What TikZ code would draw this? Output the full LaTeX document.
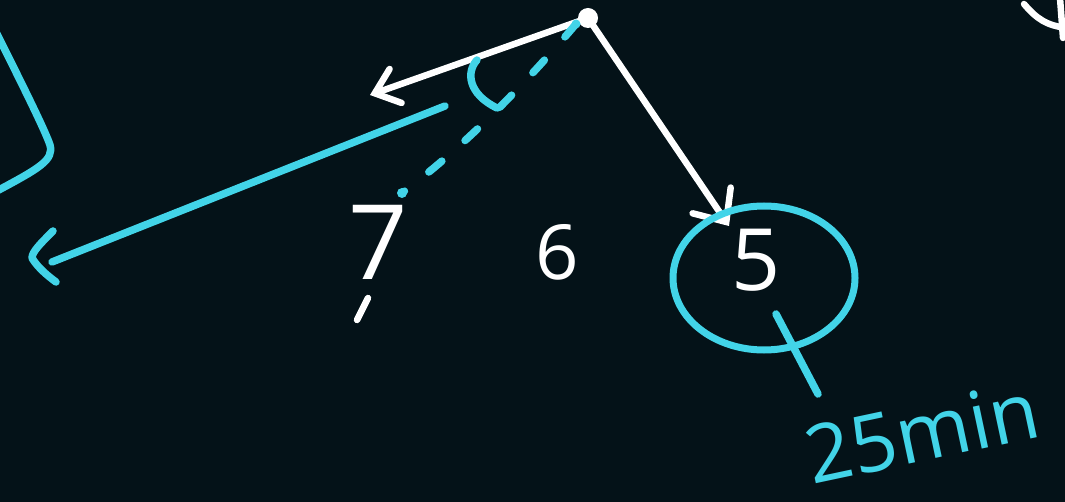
\documentclass[tikz,border=0pt]{standalone}
\usepackage{fontspec}
\setmainfont{Open Sans}
\usetikzlibrary{arrows.meta,shapes.geometric}
\definecolor{bg}{RGB}{4,18,24}
\definecolor{cy}{RGB}{66,212,232}
\begin{document}
\begin{tikzpicture}[x=1pt,y=-1pt,
  wstroke/.style={draw=white,line width=6.5pt,line cap=round,line join=round},
  cstroke/.style={draw=cy,line width=7.5pt,line cap=round,line join=round},
  wtip/.style={-{Straight Barb[length=22pt,width=36pt,line cap=round]}},
  wtipb/.style={-{Straight Barb[length=26pt,width=46pt,line cap=round]}},
  digit/.style={text=white,inner sep=0pt,font=\fontsize{#1}{#1}\selectfont},
  cdash/.style={cstroke,dash pattern=on 17pt off 31pt}
]
\useasboundingbox (0,0) rectangle (1065,502);
\fill[bg] (0,0) rectangle (1065,502);

% key points
\coordinate (apex) at (588,18);
\coordinate (tipL) at (370,95);
\coordinate (tip5) at (729,226);
\coordinate (dashA) at (576,24);
\coordinate (dashB) at (402,193);
\coordinate (longA) at (445,106);
\coordinate (longB) at (52,262);
\coordinate (hook1) at (53,231);
\coordinate (hook2) at (32,258);
\coordinate (hook3) at (56,282);

% left bracket
\draw[cstroke] (-5,30) .. controls (20,80) and (45,130) .. (50,145) .. controls (54,160) and (40,168) .. (-5,192);

% white arrows from apex
\draw[wstroke,wtip] (apex) -- (tipL);
\draw[wstroke,wtipb] (apex) -- (tip5);
\fill[white] (apex) circle (10pt);
\fill[cy] (dashA) circle (4.5pt);

% cyan dashed line and angle mark
\draw[cdash] (dashA) .. controls (520,90) and (460,150) .. (dashB);
\draw[cstroke] (477,60) .. controls (466,72) and (468,94) .. (497,108);

% long cyan line with hook
\draw[cstroke] (longA) -- (longB);
\draw[cstroke] (hook1) .. controls (40,244) and (32,252) .. (hook2) .. controls (38,268) and (48,276) .. (hook3);

% digits
\node[digit=104pt] (seven) at (378,242) {7};
\fill[cy] (dashB) circle (5pt);
\draw[wstroke] (368,298) -- (357,320);
\node[digit=76pt] (six) at (557,252) {6};
\node[digit=86pt] (five) at (756,260) {5};

% ring around 5
\node[draw=cy,line width=7pt,ellipse,minimum width=182pt,minimum height=144pt] (ring) at (764,278) {};
\coordinate (tickA) at (776,314);
\coordinate (tickB) at (818,394);
\draw[cstroke] (tickA) -- (tickB);
\node[text=cy,inner sep=0pt,rotate=12,font=\fontsize{80pt}{80pt}\selectfont] (time) at (922,432) {25min};

% partial stroke top right
\draw[wstroke] (1024,4) .. controls (1036,18) and (1046,26) .. (1068,28);
\draw[wstroke] (1060,-2) -- (1063,38);
\end{tikzpicture}
\end{document}
